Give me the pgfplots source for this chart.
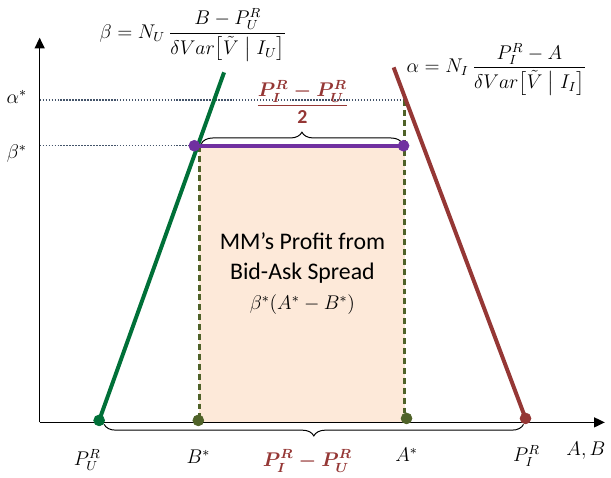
\documentclass[border=0pt]{standalone}
\usepackage{amsmath}
\usepackage{fontspec}
\setmainfont{Carlito}
\usepackage{pgfplots}
\pgfplotsset{compat=1.18}
\usetikzlibrary{arrows.meta,decorations.pathreplacing}

\definecolor{lineG}{RGB}{0,112,56}
\definecolor{lineR}{RGB}{149,55,53}
\definecolor{lineP}{RGB}{112,48,160}
\definecolor{olivedot}{RGB}{79,98,40}
\definecolor{peach}{RGB}{253,233,217}
\definecolor{dotgray}{RGB}{68,84,106}
\tikzset{axtip/.tip={Triangle[length=6.5pt,width=6pt]}}

\begin{document}
\begin{tikzpicture}
\begin{axis}[
  x=0.6pt, y=0.6pt,
  xmin=0, xmax=570, ymin=0, ymax=388,
  axis lines=left, ticks=none, clip=false,
  axis line style={line width=0.9pt, -axtip},
  anchor=origin, at={(0,0)},
]
% frame that fixes the picture size
\addplot[draw=none] coordinates {(-40,-54)(571,426)};
% profit area
\addplot[fill=peach, draw=none] coordinates {(161,0)(161,279)(368,279)(368,0)};
% reference levels
\addplot[dotgray, line width=0.9pt, dash pattern=on 0.9pt off 0.9pt] coordinates {(0,325)(368,325)};
\addplot[dotgray, line width=0.9pt, dash pattern=on 0.9pt off 0.9pt] coordinates {(0,279)(156,279)};
% B* and A*
\addplot[olivedot, line width=1.6pt, dash pattern=on 3.6pt off 2.4pt] coordinates {(161,279)(161,2)};
\addplot[olivedot, line width=1.6pt, dash pattern=on 3.6pt off 2.4pt] coordinates {(368,325)(368,4)};
% demand lines
\addplot[lineG, line width=2.4pt] coordinates {(60,2)(186,353)};
\addplot[lineR, line width=2.4pt] coordinates {(490,4)(357,358)};
\addplot[lineP, line width=2.4pt] coordinates {(156,279)(367,279)};
% points
\addplot[only marks, mark=*, mark size=3.3pt, lineG] coordinates {(60,2)};
\addplot[only marks, mark=*, mark size=3.3pt, lineR] coordinates {(490,4)};
\addplot[only marks, mark=*, mark size=3.3pt, olivedot] coordinates {(160,2)(370,4)};
\addplot[only marks, mark=*, mark size=3.3pt, lineP] coordinates {(156,279)(367,279)};
% braces
\addplot[black, line width=0.6pt, decorate, decoration={brace, amplitude=7pt}] coordinates {(163,281)(366,281)};
\addplot[black, line width=0.6pt, decorate, decoration={brace, amplitude=7pt}] coordinates {(488,-2)(65,-2)};
\end{axis}
% labels, in the same units as the axis (its origin sits at 0,0)
\begin{scope}[x=0.6pt, y=0.6pt, font=\large]
\node[text=lineR] at (265,323) {$\displaystyle\frac{\boldsymbol{P_I^R-P_U^R}}{\mathbf{2}}$};
\node[text=lineR] at (270,-39) {$\boldsymbol{P_I^R-P_U^R}$};
\node at (48,-38) {$P_U^R$};
\node at (160,-35) {$B^*$};
\node at (370,-33) {$A^*$};
\node at (491,-34) {$P_I^R$};
\node at (551,-29) {$A,B$};
\node at (-23,328) {$\alpha^*$};
\node at (-23,271) {$\beta^*$};
\node at (155,391) {$\displaystyle\beta = N_U\,\frac{B-P_U^R}{\delta Var\bigl[\tilde V\bigm\vert I_U\bigr]}$};
\node at (461,356) {$\displaystyle\alpha = N_I\,\frac{P_I^R-A}{\delta Var\bigl[\tilde V\bigm\vert I_I\bigr]}$};
\node[align=center, font=\Large] at (265,150) {MM's Profit from\\Bid-Ask Spread\\{\large$\beta^*(A^*-B^*)$}};
\end{scope}
\end{tikzpicture}
\end{document}
